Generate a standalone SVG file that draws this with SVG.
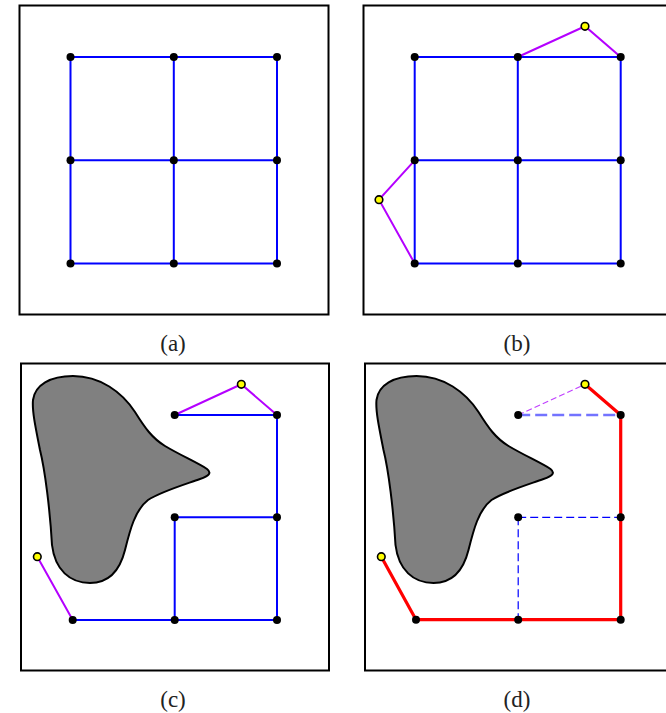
<svg xmlns="http://www.w3.org/2000/svg" width="666" height="713" viewBox="0 0 666 713">
<defs>
<style>
.frame{fill:#fff;stroke:#000;stroke-width:2}
.e{stroke:#0000ff;stroke-width:2;fill:none}
.m{stroke:#b400ff;stroke-width:2;fill:none}
.r{stroke:#ff0000;stroke-width:3.2;fill:none;stroke-linejoin:round}
.db{stroke:#0000ff;stroke-width:1.2;fill:none;stroke-dasharray:8 4}
.dbl{stroke:#7373ff;stroke-width:2.4;fill:none;stroke-dasharray:12 5}
.dm{stroke:#c040ff;stroke-width:1.2;fill:none;stroke-dasharray:6 3}
.n{fill:#000}
.y{fill:#ffff00;stroke:#000;stroke-width:1.6}
.blob{fill:#808080;stroke:#000;stroke-width:2}
.lbl{font-family:"Liberation Serif","DejaVu Serif",serif;font-size:23px;fill:#222;text-anchor:middle}
</style>
<path id="blobshape" d="M 73,376 C 100,376 122,392 135,412 C 145,428 152,438 165,446 C 180,455 200,464 207,469 C 212,473 209,476 200,479 C 180,486 160,492 148,500 C 135,510 130,530 125,550 C 120,570 110,583 90,583 C 70,583 55,570 52,545 C 50,510 45,470 40,450 C 35,425 32,410 33,400 C 35,385 50,376 73,376 Z"/>
</defs>
<rect width="666" height="713" fill="#fff"/>
<!-- frames -->
<rect class="frame" x="19.5" y="5.5" width="309" height="309"/>
<rect class="frame" x="363.5" y="5.5" width="309" height="309"/>
<rect class="frame" x="21" y="363.5" width="308" height="307"/>
<rect class="frame" x="365" y="363.5" width="308" height="307"/>
<!-- obstacles -->
<g id="obstacle-c"><use href="#blobshape" class="blob"/></g>
<g id="obstacle-d"><use href="#blobshape" class="blob" transform="translate(343.5,0)"/></g>
<g id="connectors">
<!-- (a) -->
<path class="e" d="M70.5,57H277M70.5,160.3H277M70.5,263.5H277M70.5,57V263.5M173.8,57V263.5M277,57V263.5"/>
<!-- (b) -->
<path class="e" d="M414.7,57H620.7M414.7,160.3H620.7M414.7,263.5H620.7M414.7,57V263.5M517.8,57V263.5M620.7,57V263.5"/>
<path class="m" d="M517.8,57L585,26.3L620.7,57M414.7,160.3L379,199.7L414.7,263.5"/>
<!-- (c) -->
<path class="e" d="M174.7,415H277M174.7,517.3H277M72.7,620H277M277,415V620M174.7,517.3V620"/>
<path class="m" d="M174.7,415L241.3,384.3L277,415M37.3,556.7L72.7,620"/>
<!-- (d) -->
<path class="dm" d="M518.2,415L585,384.3"/>
<path class="dbl" d="M518.2,415H620.7"/>
<path class="db" d="M518.2,517.3H620.7M518.2,517.3V619.7"/>
<path class="r" d="M585,384.3L620.7,415V619.7H416L381.3,556.7"/>
</g>
<!-- nodes (a) -->
<g id="a-nodes">
<circle class="n" cx="70.5" cy="57" r="4"/><circle class="n" cx="173.8" cy="57" r="4"/><circle class="n" cx="277" cy="57" r="4"/>
<circle class="n" cx="70.5" cy="160.3" r="4"/><circle class="n" cx="173.8" cy="160.3" r="4"/><circle class="n" cx="277" cy="160.3" r="4"/>
<circle class="n" cx="70.5" cy="263.5" r="4"/><circle class="n" cx="173.8" cy="263.5" r="4"/><circle class="n" cx="277" cy="263.5" r="4"/>
</g>
<g id="b-nodes">
<circle class="n" cx="414.7" cy="57" r="4"/><circle class="n" cx="517.8" cy="57" r="4"/><circle class="n" cx="620.7" cy="57" r="4"/>
<circle class="n" cx="414.7" cy="160.3" r="4"/><circle class="n" cx="517.8" cy="160.3" r="4"/><circle class="n" cx="620.7" cy="160.3" r="4"/>
<circle class="n" cx="414.7" cy="263.5" r="4"/><circle class="n" cx="517.8" cy="263.5" r="4"/><circle class="n" cx="620.7" cy="263.5" r="4"/>
<circle class="y" cx="585" cy="26.3" r="3.8"/><circle class="y" cx="379" cy="199.7" r="3.8"/>
</g>
<g id="c-nodes">
<circle class="n" cx="174.7" cy="415" r="4"/><circle class="n" cx="277" cy="415" r="4"/>
<circle class="n" cx="174.7" cy="517.3" r="4"/><circle class="n" cx="277" cy="517.3" r="4"/>
<circle class="n" cx="72.7" cy="620" r="4"/><circle class="n" cx="174.7" cy="620" r="4"/><circle class="n" cx="277" cy="620" r="4"/>
<circle class="y" cx="241.3" cy="384.3" r="3.8"/><circle class="y" cx="37.3" cy="556.7" r="3.8"/>
</g>
<g id="d-nodes">
<circle class="n" cx="518.2" cy="415" r="4"/><circle class="n" cx="620.7" cy="415" r="4"/>
<circle class="n" cx="518.2" cy="517.3" r="4"/><circle class="n" cx="620.7" cy="517.3" r="4"/>
<circle class="n" cx="416" cy="619.7" r="4"/><circle class="n" cx="518.2" cy="619.7" r="4"/><circle class="n" cx="620.7" cy="619.7" r="4"/>
<circle class="y" cx="585" cy="384.3" r="3.8"/><circle class="y" cx="381.3" cy="556.7" r="3.8"/>
</g>
<g id="labels">
<text class="lbl" x="173" y="351">(a)</text>
<text class="lbl" x="517" y="351">(b)</text>
<text class="lbl" x="173" y="707">(c)</text>
<text class="lbl" x="517" y="707">(d)</text>
</g>
</svg>
